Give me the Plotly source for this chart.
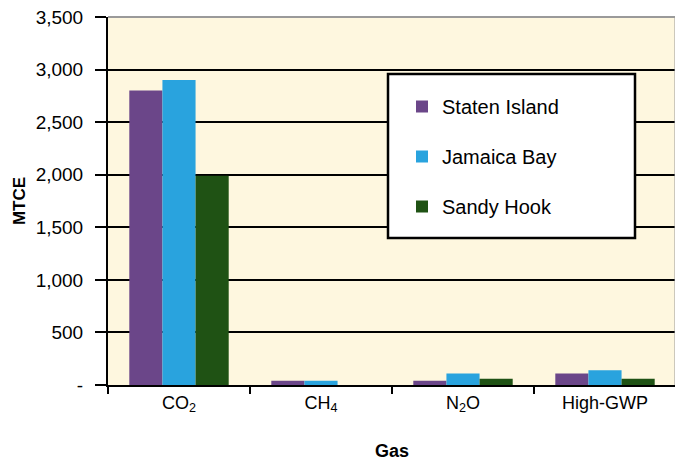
import plotly.graph_objects as go

categories = ["CO<sub>2</sub>", "CH<sub>4</sub>", "N<sub>2</sub>O", "High-GWP"]
staten_island = [2800, 40, 40, 110]
jamaica_bay = [2900, 40, 110, 140]
sandy_hook = [1990, 0, 60, 60]
y_tick_vals = [0, 500, 1000, 1500, 2000, 2500, 3000, 3500]
y_tick_text = ["-", "500", "1,000", "1,500", "2,000", "2,500", "3,000", "3,500"]

FONT = "Liberation Sans"

fig = go.Figure()
series = [("Staten Island", staten_island, "#6B4689"),
          ("Jamaica Bay", jamaica_bay, "#29A3DE"),
          ("Sandy Hook", sandy_hook, "#1F5214")]
for i, (name, vals, col) in enumerate(series):
    fig.add_trace(go.Bar(x=categories, y=vals, name=name, marker_color=col,
                         marker_line_width=0, showlegend=False))
for i, (name, vals, col) in enumerate(series):
    fig.add_trace(go.Scatter(x=[None], y=[None], mode="markers", name=name,
                             marker=dict(symbol="square", size=20, color=col),
                             legendgroup=f"g{i}"))

# page body has an 8px offset, so margins compensate
PL, PR, PT, PB = 108, 676, 17, 385
OFF = 8
W, H = 683, 464

fig.update_layout(
    width=W, height=H,
    margin=dict(l=PL - OFF, r=W - PR + OFF, t=PT - OFF, b=H - PB + OFF),
    paper_bgcolor="white", plot_bgcolor="#FEF7DF",
    barmode="group", bargap=0.3, bargroupgap=0,
    font=dict(family=FONT, color="black", size=17),
    showlegend=True,
    legend=dict(x=(402 - PL) / (PR - PL), y=(PB - 87) / (PB - PT), xanchor="left", yanchor="top",
                bgcolor="rgba(0,0,0,0)", borderwidth=0,
                font=dict(size=20, family=FONT), tracegroupgap=21,
                traceorder="grouped", itemsizing="constant"),
    xaxis=dict(showline=True, linecolor="black", linewidth=2,
               ticks="outside", tickson="boundaries", ticklen=7, tickwidth=2,
               tickcolor="black", tickfont=dict(size=18, family=FONT),
               automargin=False,
               title=dict(text="<b>Gas</b>", font=dict(size=18, family=FONT), standoff=30)),
    yaxis=dict(range=[0, 3500], tickvals=y_tick_vals, ticktext=y_tick_text,
               showline=True, linecolor="black", linewidth=2,
               ticks="outside", ticklen=11, tickwidth=2, tickcolor="black",
               ticklabelstandoff=8, ticklabeloverflow="allow",
               showgrid=True, gridcolor="black", gridwidth=2,
               tickfont=dict(size=19, family=FONT), zeroline=False,
               automargin=False,
               title=dict(text="<b>MTCE</b>", font=dict(size=17, family=FONT), standoff=6)),
    shapes=[
        dict(type="line", xref="paper", yref="paper", x0=0, x1=1, y0=1, y1=1,
             line=dict(color="#9A9A9A", width=2), layer="above"),
        dict(type="line", xref="paper", yref="paper", x0=1, x1=1, y0=0, y1=1,
             line=dict(color="#9A9A9A", width=3), layer="above"),
        dict(type="rect", xref="paper", yref="paper",
             x0=(388 - PL) / (PR - PL), x1=(635 - PL) / (PR - PL),
             y0=(PB - 238) / (PB - PT), y1=(PB - 74) / (PB - PT),
             fillcolor="white", line=dict(color="black", width=2.5), layer="above"),
    ],
)

fig.write_html("out.html")
